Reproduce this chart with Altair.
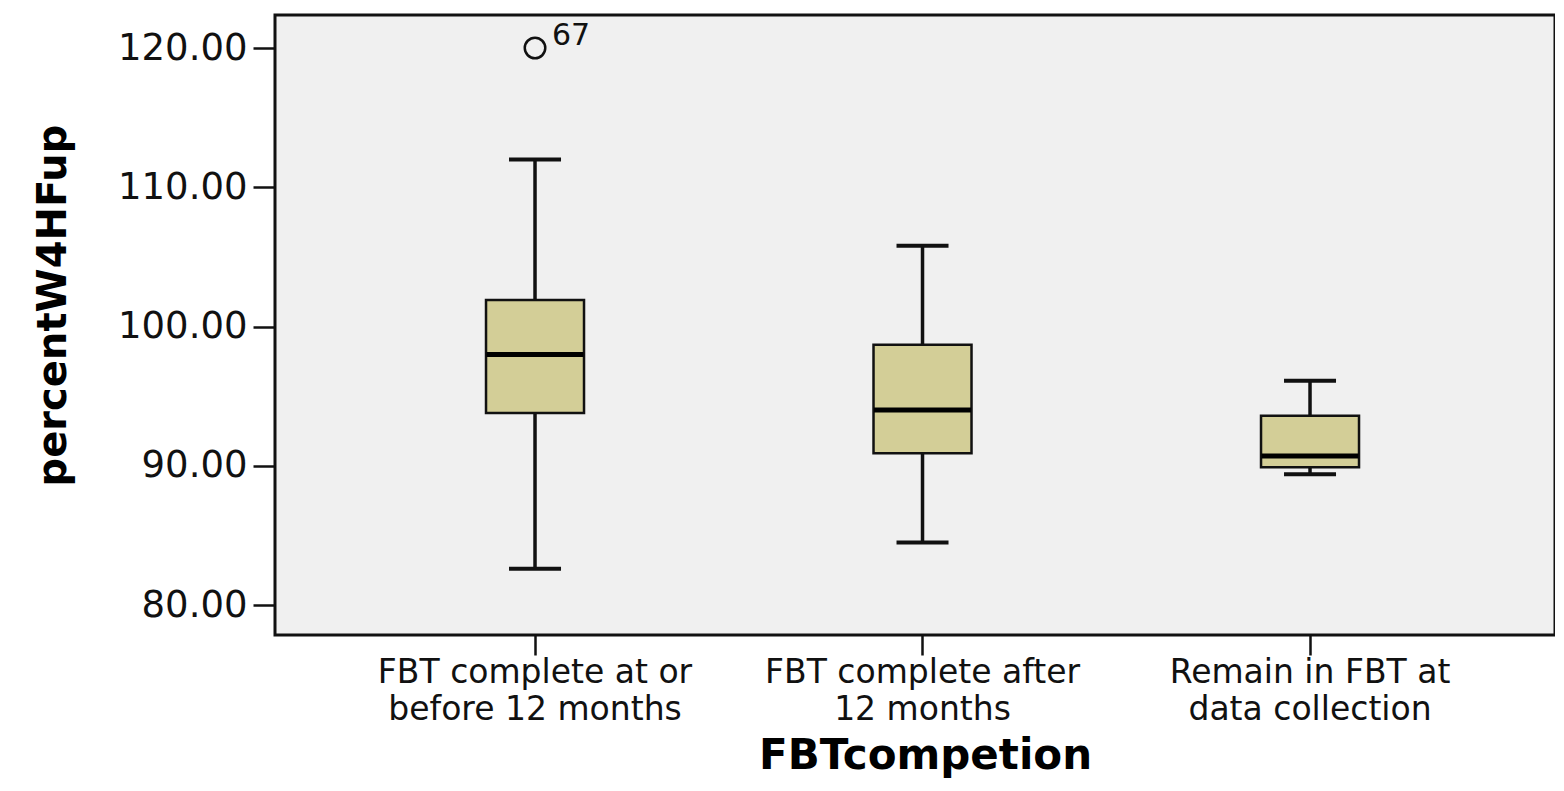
import altair as alt
import pandas as pd

# Groups ("|" marks the line break used on the axis labels)
groups = [
    "FBT complete at or|before 12 months",
    "FBT complete after|12 months",
    "Remain in FBT at|data collection",
]
whisker_low = [82.6, 84.5, 89.4]
q1 = [93.8, 90.9, 89.9]
median = [98.0, 94.0, 90.7]
q3 = [101.9, 98.7, 93.6]
whisker_high = [112.0, 105.8, 96.1]

outlier_group = [groups[0]]
outlier_value = [120.0]
outlier_label = ["67"]

y_ticks = [80, 90, 100, 110, 120]

df = pd.DataFrame({
    "group": groups,
    "lo": whisker_low,
    "q1": q1,
    "med": median,
    "q3": q3,
    "hi": whisker_high,
})
out_df = pd.DataFrame({"group": outlier_group, "value": outlier_value, "label": outlier_label})

FONT = "DejaVu Sans"
INK = "#111111"

xscale = alt.Scale(domain=groups, paddingInner=0, paddingOuter=0.1516, align=0.564)
yscale = alt.Scale(domain=[77.85, 122.37], nice=False, zero=False)

xaxis = alt.Axis(
    labelExpr="split(datum.label, '|')",
    labelAngle=0, labelLimit=0,
    labelFont=FONT, labelFontSize=33, labelLineHeight=37, labelColor=INK,
    labelPadding=1,
    domain=False, grid=False,
    tickColor=INK, tickWidth=2.5, tickSize=20,
    titleFont=FONT, titleFontSize=42, titleFontWeight="bold", titleColor="black",
    titleBaseline="alphabetic", titleY=133, titleX=650,
)
yaxis = alt.Axis(
    values=y_ticks, format=".2f",
    labelFont=FONT, labelFontSize=37, labelColor=INK, labelPadding=6,
    domain=False, grid=False,
    tickColor=INK, tickWidth=2.5, tickSize=22,
    titleFont=FONT, titleFontSize=40, titleFontWeight="bold", titleColor="black",
    titleAngle=-90, titleAlign="center", titleBaseline="bottom",
    titleX=-202, titleY=290,
)

X = alt.X("group:N", sort=groups, scale=xscale, axis=xaxis, title="FBTcompetion")

def Y(field):
    return alt.Y(f"{field}:Q", scale=yscale, axis=yaxis, title="percentW4HFup")

whisk = alt.Chart(df).mark_rule(color=INK, strokeWidth=3.5, opacity=1).encode(
    x=X, y=Y("lo"), y2="hi:Q"
)
cap_lo = alt.Chart(df).mark_tick(color=INK, size=52, thickness=4, opacity=1).encode(x=X, y=Y("lo"))
cap_hi = alt.Chart(df).mark_tick(color=INK, size=52, thickness=4, opacity=1).encode(x=X, y=Y("hi"))
box = alt.Chart(df).mark_bar(
    size=98, fill="#d3ce97", stroke=INK, strokeWidth=2.5, opacity=1
).encode(x=X, y=Y("q1"), y2="q3:Q")
med = alt.Chart(df).mark_tick(color="black", size=97, thickness=5, opacity=1).encode(x=X, y=Y("med"))

outl = alt.Chart(out_df).mark_point(
    shape="circle", filled=False, stroke=INK, strokeWidth=2.5, size=420, opacity=1
).encode(x=X, y=Y("value"))
outl_txt = alt.Chart(out_df).mark_text(
    align="left", baseline="alphabetic", dx=17, dy=-3, font=FONT, fontSize=30, color=INK
).encode(x=X, y=Y("value"), text="label:N")

chart = alt.layer(whisk, cap_lo, cap_hi, box, med, outl, outl_txt).properties(
    width=1280,
    height=620,
    autosize="none",
    padding={"left": 267, "top": 7, "right": 0, "bottom": 143},
    background="white",
).configure_view(
    fill="#f0f0f0", stroke=INK, strokeWidth=3
)

chart.save("out.html", embed_options={"renderer": "svg", "actions": False})
